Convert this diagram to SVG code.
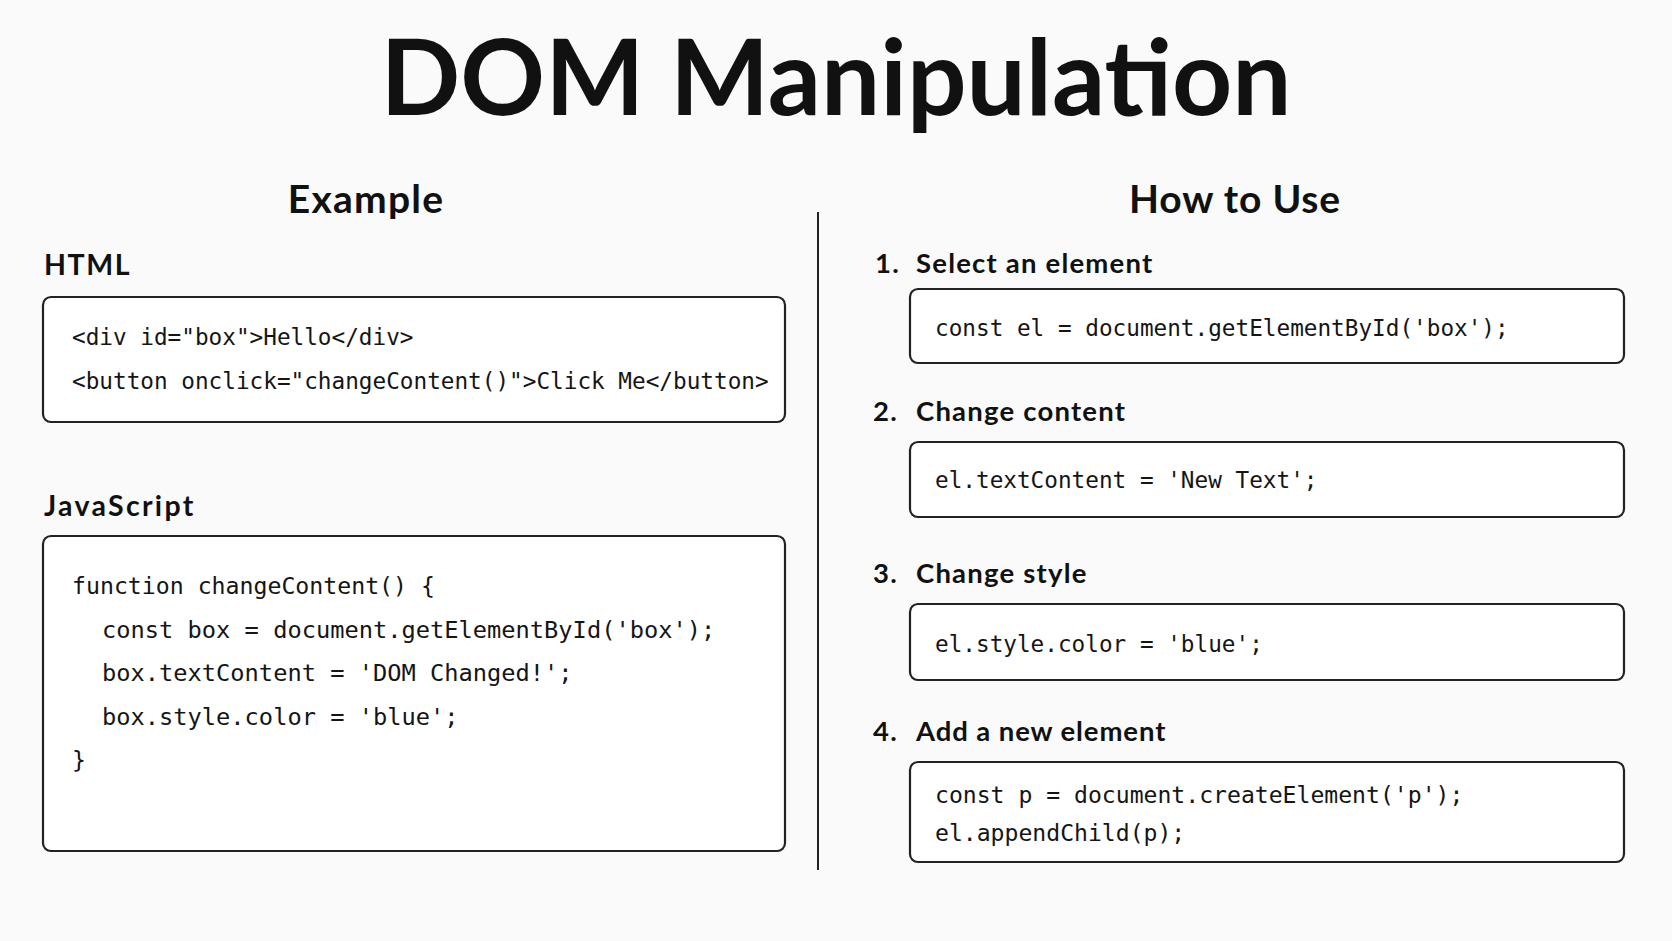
<svg xmlns="http://www.w3.org/2000/svg" width="1672" height="941" viewBox="0 0 1672 941">
<style>
.bg{fill:#fafafa}
.h{font-family:Lato,"Noto Sans",sans-serif;font-weight:700;fill:#111}
.title{font-size:105px}
.sec{font-size:39px;letter-spacing:1.2px}
.sub{font-size:28.5px;letter-spacing:1.6px}
.step{font-size:27.5px;letter-spacing:1.2px}
.box{fill:#fff;stroke:#222;stroke-width:2.2}
.code{font-family:"DejaVu Sans Mono","Liberation Mono",monospace;font-size:22.7px;fill:#151515}
.js{font-size:23.2px}
.jsi{font-size:23.7px}
.div{stroke:#222;stroke-width:2}
</style>
<rect class="bg" x="0" y="0" width="1672" height="941"/>
<text id="title" class="h title" x="836" y="115" text-anchor="middle">DOM Manipulation</text>

<g id="example">
<text class="h sec" x="366" y="213" text-anchor="middle">Example</text>
</g>
<g id="html-block">
<text class="h sub" x="44" y="275">HTML</text>
<rect class="box" x="43" y="297" width="742" height="125" rx="8"/>
<text class="code" x="72" y="345">&lt;div id="box"&gt;Hello&lt;/div&gt;</text>
<text class="code" x="72" y="389">&lt;button onclick="changeContent()"&gt;Click Me&lt;/button&gt;</text>
</g>
<g id="js-block">
<text class="h sub" x="44" y="516" style="letter-spacing:2.3px">JavaScript</text>
<rect class="box" x="43" y="536" width="742" height="315" rx="8"/>
<text class="code js" x="72" y="594">function changeContent() {</text>
<text class="code jsi" x="102" y="638">const box = document.getElementById('box');</text>
<text class="code jsi" x="102" y="681">box.textContent = 'DOM Changed!';</text>
<text class="code jsi" x="102" y="725">box.style.color = 'blue';</text>
<text class="code js" x="72" y="768">}</text>
</g>

<g id="connectors">
<line class="div" x1="818" y1="212" x2="818" y2="870"/>
</g>

<g id="how-to-use">
<text class="h sec" x="1235" y="213" text-anchor="middle" style="letter-spacing:0.8px">How to Use</text>
</g>
<g id="step1">
<text class="h step" x="875" y="273">1.</text>
<text class="h step" x="916" y="273">Select an element</text>
<rect class="box" x="910" y="289" width="714" height="74" rx="8"/>
<text class="code" x="935" y="336">const el = document.getElementById('box');</text>
</g>
<g id="step2">
<text class="h step" x="873" y="421">2.</text>
<text class="h step" x="916" y="421">Change content</text>
<rect class="box" x="910" y="442" width="714" height="75" rx="8"/>
<text class="code" x="935" y="488">el.textContent = 'New Text';</text>
</g>
<g id="step3">
<text class="h step" x="873" y="583">3.</text>
<text class="h step" x="916" y="583">Change style</text>
<rect class="box" x="910" y="604" width="714" height="76" rx="8"/>
<text class="code" x="935" y="652">el.style.color = 'blue';</text>
</g>
<g id="step4">
<text class="h step" x="873" y="741">4.</text>
<text class="h step" x="916" y="741" style="letter-spacing:0.9px">Add a new element</text>
<rect class="box" x="910" y="762" width="714" height="100" rx="8"/>
<text class="code" x="935" y="803" style="font-size:23.1px">const p = document.createElement('p');</text>
<text class="code" x="935" y="841" style="font-size:23.1px">el.appendChild(p);</text>
</g>
</svg>
